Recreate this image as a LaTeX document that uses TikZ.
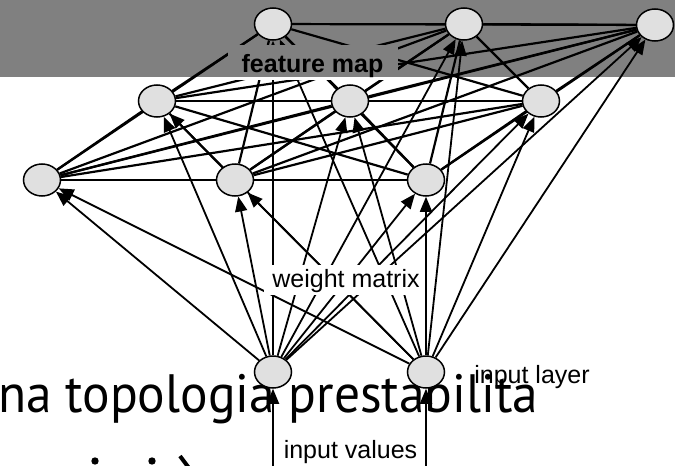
\documentclass[tikz,border=0pt]{standalone}
\usepackage{fontspec}
\usepackage{graphicx}
\setmainfont{Liberation Sans}
\newfontfamily\bigfont{PT Sans}
\usetikzlibrary{shapes.geometric,arrows.meta}
\definecolor{bandgray}{RGB}{128,128,128}
\definecolor{nodefill}{RGB}{224,224,224}
\pgfdeclarelayer{back}
\pgfdeclarelayer{edges}
\pgfdeclarelayer{labels}
\pgfsetlayers{back,edges,labels,main}
\begin{document}
\begin{tikzpicture}[x=1pt,y=-1pt,
  unit/.style={ellipse,draw=black,line width=1.5pt,fill=nodefill,minimum width=37pt,minimum height=32pt,inner sep=0pt},
  lateral/.style={line width=2.2pt},
  weightarrow/.style={line width=1.8pt,-{Triangle[length=15pt,width=12pt]}},
  lblfont/.style={inner sep=0pt,anchor=base,font=\fontsize{25}{28}\selectfont},
  lblbold/.style={inner sep=0pt,anchor=base,font=\fontsize{25}{28}\selectfont\bfseries}
]
\useasboundingbox (0,0) rectangle (675,466);

% nodes (main layer, on top)
\node[unit] (F1) at (273,24) {};
\node[unit] (F2) at (464,24) {};
\node[unit] (F3) at (655,25) {};
\node[unit] (M1) at (157,101) {};
\node[unit] (M2) at (350,101) {};
\node[unit] (M3) at (541,101) {};
\node[unit] (L1) at (42,180) {};
\node[unit] (L2) at (235,180) {};
\node[unit] (L3) at (426,180) {};
\node[unit] (I1) at (273,372) {};
\node[unit] (I2) at (426,372) {};
\coordinate (v1) at (273,470);
\coordinate (v2) at (426,470);

\begin{pgfonlayer}{back}
  \fill[bandgray] (0,0) rectangle (675,77);
  \node[anchor=base west,inner sep=0pt] (slide) at (-2,412)
    {\resizebox{540pt}{\height}{\bigfont\fontsize{54}{60}\selectfont na topologia prestabilita}};
  \fill (95,461) circle (3.7pt);
  \fill (152,461) circle (3.7pt);
  \draw[line width=4pt] (180,456) -- (189,468);
\end{pgfonlayer}

\begin{pgfonlayer}{edges}
  \foreach \a/\b in {F1/F2,F1/F3,F1/M1,F1/M2,F1/M3,F1/L1,F1/L2,F1/L3,
                     F2/F3,F2/M1,F2/M2,F2/M3,F2/L1,F2/L2,F2/L3,
                     F3/M1,F3/M2,F3/M3,F3/L1,F3/L2,F3/L3,
                     M1/M2,M1/M3,M1/L1,M1/L2,M1/L3,
                     M2/M3,M2/L1,M2/L2,M2/L3,
                     M3/L1,M3/L2,M3/L3,
                     L1/L2,L1/L3,L2/L3}
    \draw[lateral] (\a) -- (\b);
  \foreach \i in {I1,I2}
    \foreach \m in {F1,F2,F3,M1,M2,M3,L1,L2,L3}
      \draw[weightarrow] (\i) -- (\m);
  \draw[weightarrow] (v1) -- (I1);
  \draw[weightarrow] (v2) -- (I2);
\end{pgfonlayer}

\begin{pgfonlayer}{labels}
  \fill[bandgray] (228,45) rectangle (398,77);
  \fill[white] (228,77) rectangle (398,80);
  \fill[white] (264,265) rectangle (423,295);
  \node[lblbold] (fmap) at (312.5,72) {feature map};
  \node[lblfont] (wmat) at (346,287) {weight matrix};
  \node[lblfont] (ilay) at (532,383) {input layer};
  \node[lblfont] (ival) at (350.5,458) {input values};
\end{pgfonlayer}
\end{tikzpicture}
\end{document}
